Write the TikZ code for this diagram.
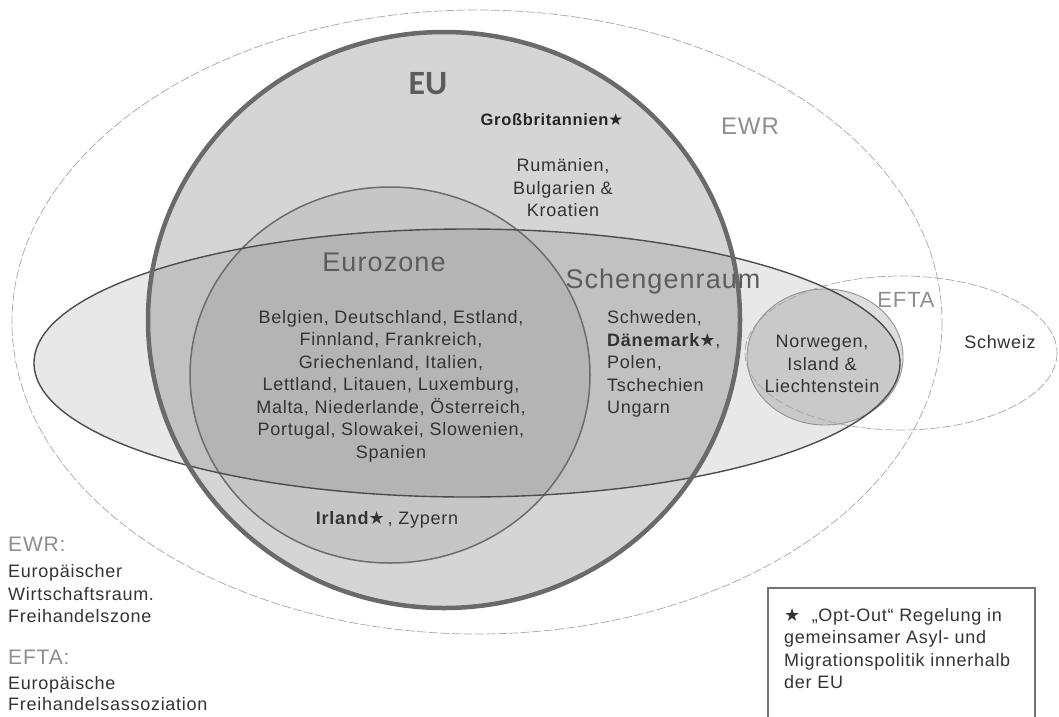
\documentclass[tikz,border=0pt]{standalone}
\usepackage{fontspec}
\setmainfont{Liberation Sans}[LetterSpace=4]
\newfontfamily\eufont{Carlito}
\newfontfamily\starfont{DejaVu Sans}
\usetikzlibrary{positioning}
\definecolor{eugray}{HTML}{D5D5D5}
\definecolor{eurogray}{HTML}{C6C6C6}
\definecolor{eftagray}{HTML}{DEDEDE}
\definecolor{eurim}{HTML}{6A6A6A}
\definecolor{txtgray}{HTML}{333333}
\definecolor{lblgray}{HTML}{5C5C5C}
\definecolor{litegray}{HTML}{8E8E8E}
\newcommand{\optstar}{{\starfont★}}

\begin{document}
\begin{tikzpicture}[x=1pt, y=-1pt,
  dashrim/.style={draw=gray!70, line width=0.7pt, dash pattern=on 9pt off 2.5pt},
  country/.style={font=\fontsize{18}{22.5}\selectfont, text=txtgray, align=center, inner sep=0pt},
  zonename/.style={font=\fontsize{27}{30}\selectfont, text=lblgray, inner sep=0pt},
  outername/.style={font=\fontsize{24}{28}\selectfont, text=litegray, inner sep=0pt},
  keyhead/.style={font=\fontsize{21}{24}\selectfont, text=litegray, anchor=west, inner sep=0pt},
  keytext/.style={font=\fontsize{18}{22.5}\selectfont, text=txtgray, align=left, anchor=west, inner sep=0pt}
]
\useasboundingbox (0,0) rectangle (1059,716);

% filled areas
\fill[eugray] (444,320) ellipse [x radius=296, y radius=288];
\fill[eurogray] (390,375) ellipse [x radius=200, y radius=188];
\fill[eftagray] (825,357) ellipse [x radius=78, y radius=68];
\fill[black, fill opacity=0.09] (467,363) ellipse [x radius=433, y radius=134];

% outlines
\draw[dashrim] (477,322) ellipse [x radius=465, y radius=312];
\draw[dashrim] (901,353) ellipse [x radius=156, y radius=77];
\draw[gray!85, line width=0.9pt] (825,357) ellipse [x radius=78, y radius=68];
\draw[gray!85!black, line width=1.5pt] (390,375) ellipse [x radius=200, y radius=188];
\draw[black!70, line width=1.4pt] (467,363) ellipse [x radius=433, y radius=134];
\draw[eurim, line width=4.5pt] (444,320) ellipse [x radius=296, y radius=288];

% area names
\node[font=\eufont\bfseries\fontsize{34}{34}\selectfont, text=lblgray, inner sep=0pt] (eu) at (428,84) {EU};
\node[zonename] (eurozone) at (384,262) {Eurozone};
\node[zonename] (schengen) at (663,282) {Schengenraum};
\node[outername] (ewr) at (750,126) {EWR};
\node[outername, font=\fontsize{22}{26}\selectfont] (efta) at (906,300) {EFTA};

% member states
\node[country, font=\bfseries\fontsize{16.5}{20}\selectfont, text=black!85] (gb) at (552,120) {Großbritannien\optstar};
\node[country] (rbk) at (563,188) {Rumänien,\\Bulgarien \&\\Kroatien};
\node[country] (euro) at (391,386) {Belgien, Deutschland, Estland,\\Finnland, Frankreich,\\Griechenland, Italien,\\Lettland, Litauen, Luxemburg,\\Malta, Niederlande, Österreich,\\Portugal, Slowakei, Slowenien,\\Spanien};
\node[country] (irl) at (387,520) {\textbf{Irland\optstar}\,, Zypern};
\node[country, align=left, anchor=west] (schstates) at (607,364) {Schweden,\\\textbf{Dänemark\optstar},\\Polen,\\Tschechien\\Ungarn};
\node[country] (nil) at (822,364) {Norwegen,\\Island \&\\Liechtenstein};
\node[country] (ch) at (1000,342) {Schweiz};

% key on the left
\node[keyhead] (ewrhead) at (8,544) {EWR:};
\node[keytext] (ewrtext) at (8,594) {Europäischer\\Wirtschaftsraum.\\Freihandelszone};
\node[keyhead] (eftahead) at (8,657) {EFTA:};
\node[keytext, font=\fontsize{18}{21}\selectfont] (eftatext) at (8,694) {Europäische\\Freihandelsassoziation};

% opt-out note
\draw[gray!90!black, line width=1.1pt] (768,588) rectangle (1035,740);
\node[keytext, anchor=north west] (optout) at (784,608) {\optstar\ \ „Opt-Out“ Regelung in\\gemeinsamer Asyl- und\\Migrationspolitik innerhalb\\der EU};
\end{tikzpicture}
\end{document}
